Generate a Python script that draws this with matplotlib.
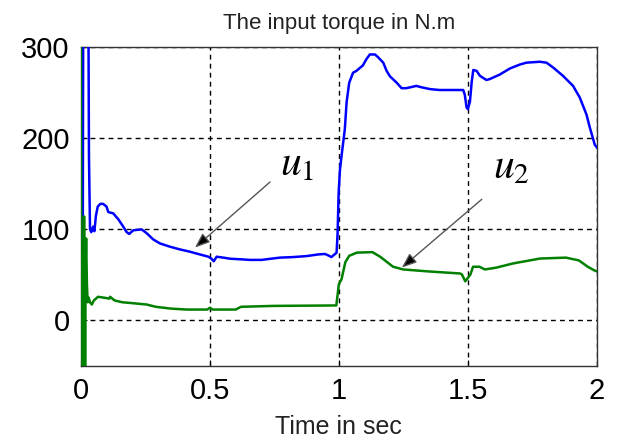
import numpy as np
import matplotlib
matplotlib.use("Agg")
import matplotlib.pyplot as plt

plt.rcParams['font.family'] = ['Liberation Sans', 'DejaVu Sans']
plt.rcParams['mathtext.fontset'] = 'stix'

# u1 - input torque 1 (blue)
t_u1 = [0.0, 0.005, 0.007, 0.009, 0.011, 0.028, 0.031, 0.035, 0.04, 0.047, 0.052,
        0.058, 0.065, 0.075, 0.086, 0.099, 0.106, 0.125, 0.145, 0.164, 0.177, 0.187,
        0.203, 0.235, 0.254, 0.28, 0.306, 0.345, 0.384, 0.422, 0.461, 0.494, 0.506,
        0.515, 0.526, 0.552, 0.578, 0.629, 0.655, 0.7, 0.771, 0.823, 0.875, 0.92,
        0.946, 0.959, 0.971, 0.991, 0.995, 0.999, 1.004, 1.01, 1.023, 1.03, 1.04,
        1.055, 1.068, 1.093, 1.107, 1.12, 1.14, 1.152, 1.172, 1.185, 1.198, 1.224,
        1.243, 1.262, 1.30, 1.32, 1.353, 1.39, 1.44, 1.482, 1.488, 1.495, 1.50,
        1.508, 1.515, 1.521, 1.534, 1.547, 1.572, 1.585, 1.624, 1.663, 1.702, 1.727,
        1.779, 1.805, 1.831, 1.869, 1.908, 1.934, 1.96, 1.973, 1.986, 1.992, 2.0]
u1 = [76, 400, 76, 400, 400, 400, 180, 100, 97, 103, 98,
      115, 125, 128, 128, 125, 119, 117.6, 111, 103, 97, 95,
      99, 100, 96, 89, 84.6, 81, 78, 75.5, 72.5, 70, 67.8,
      65, 70, 69, 67.8, 67, 66.5, 66.5, 69, 69.6, 70.7, 72.5,
      73, 71.4, 69.6, 74.4, 96, 140, 165, 180, 210, 240, 261,
      272, 274, 280, 287, 292, 292, 289, 283, 274, 268, 261,
      255, 255, 257.5, 256, 254, 253, 253, 253, 248, 234, 232,
      240, 262, 275, 274, 268.5, 264, 265, 270, 276.6, 281, 283,
      284, 283, 277.6, 268.5, 257.5, 244.7, 226, 211.7, 199, 193, 190]

# u2 - input torque 2 (green)
t_u2 = [0.0, 0.001, 0.003, 0.005, 0.007, 0.009, 0.011, 0.013, 0.016, 0.018, 0.02,
        0.023, 0.026, 0.03, 0.035, 0.042, 0.05, 0.066, 0.09, 0.11, 0.113, 0.13,
        0.16, 0.2, 0.255, 0.29, 0.35, 0.41, 0.49, 0.5, 0.51, 0.52, 0.6, 0.62,
        0.745, 0.99, 1.0, 1.01, 1.025, 1.04, 1.07, 1.13, 1.16, 1.21, 1.25, 1.34,
        1.42, 1.47, 1.477, 1.49, 1.51, 1.52, 1.545, 1.566, 1.61, 1.675, 1.78, 1.88,
        1.93, 1.965, 1.99, 2.0]
u2 = [300, -50, 35, -50, 35, -50, 114, 114, -50, 60, 90,
      40, 20, 25, 20, 17.5, 22, 26, 25, 24, 26, 22,
      20, 19, 17.5, 15, 13, 12, 12, 14, 12, 12, 12, 15,
      16, 16.5, 40, 45, 64, 71, 74.5, 75, 70, 59, 56, 54,
      52.5, 51.6, 50.5, 43, 50.5, 59, 59, 56, 58, 62.6, 68, 69,
      66, 59, 55, 54]

x_ticks = [0, 0.5, 1, 1.5, 2]
x_tick_labels = ['0', '0.5', '1', '1.5', '2']
y_ticks = [0, 100, 200, 300]
y_tick_labels = ['0', '100', '200', '300']

fig = plt.figure(figsize=(6.2, 4.41), dpi=100)
ax = fig.add_axes([0.1306, 0.170, 0.832, 0.723])

ax.plot(t_u1, u1, color='#0000ff', lw=1.8, zorder=3)
ax.plot(t_u2, u2, color='#008000', lw=1.8, zorder=3)

ax.set_xlim(0, 2)
ax.set_ylim(-50, 300)
ax.set_xticks(x_ticks)
ax.set_xticklabels(x_tick_labels)
ax.set_yticks(y_ticks)
ax.set_yticklabels(y_tick_labels)
ax.tick_params(direction='in', length=4, labelsize=21, pad=8, colors='black')

ax.grid(True, color='black', linestyle=(0, (3.5, 3)), lw=1.0)
for s in ax.spines.values():
    s.set_color('#333333')
    s.set_linewidth(1.0)

ax.set_title('The input torque in N.m', fontsize=16, pad=13, color='#222222')
ax.set_xlabel('Time in sec', fontsize=18, labelpad=7, color='#222222')

# arrows and labels
arrow = dict(arrowstyle='-|>,head_length=0.9,head_width=0.35', fc='black',
             ec='#555555', lw=1.0, shrinkA=0, shrinkB=0)
ax.annotate('', xy=(0.442, 80), xytext=(0.733, 152), arrowprops=arrow)
ax.annotate('', xy=(1.244, 58), xytext=(1.554, 133), arrowprops=arrow)
ax.text(0.84, 171, '$u_1$', fontsize=30, ha='center', va='center')
ax.text(1.67, 168, '$u_2$', fontsize=30, ha='center', va='center')

fig.savefig('out.png', dpi=100)
